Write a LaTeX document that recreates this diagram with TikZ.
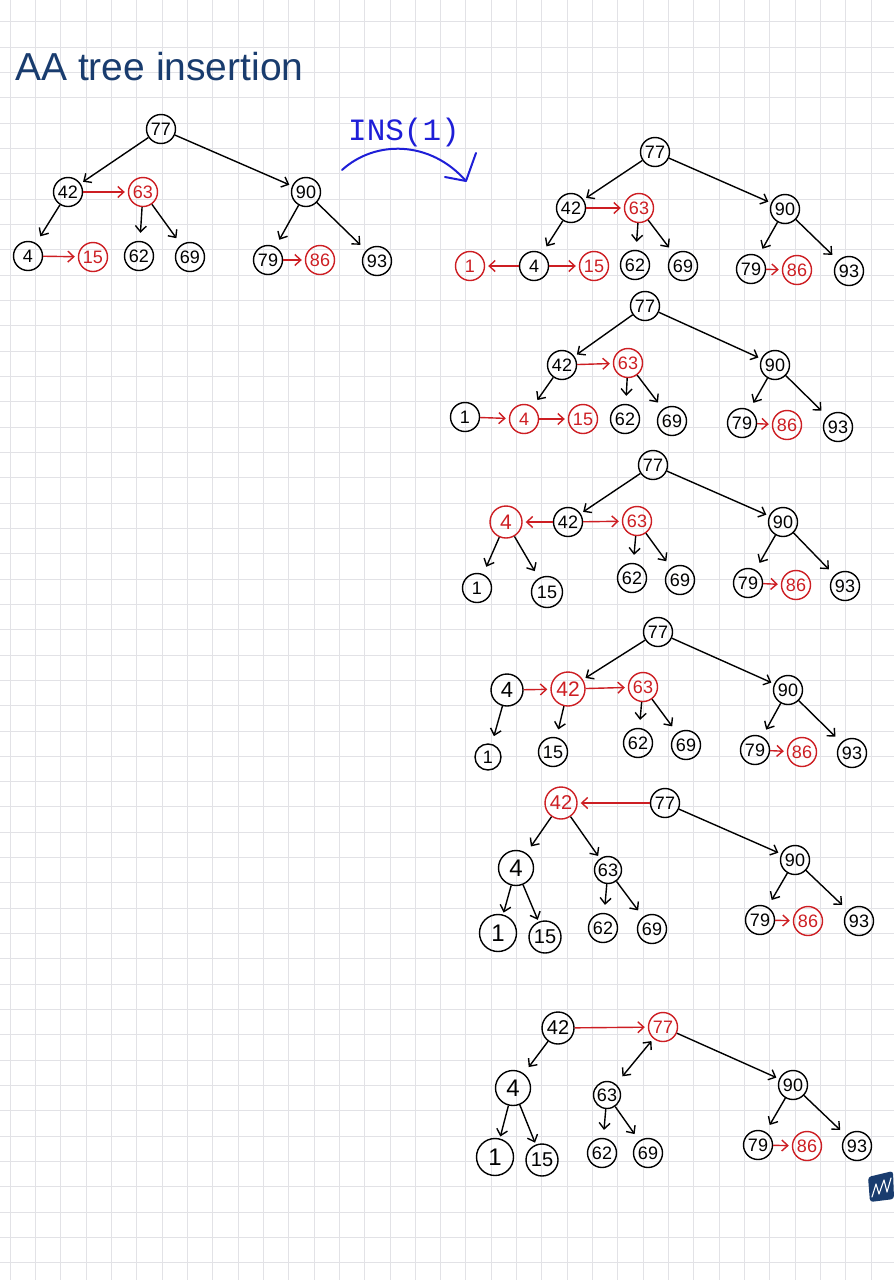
\documentclass[tikz,border=0pt]{standalone}
\usepackage{fontspec}
\setmainfont{Liberation Sans}
\newfontfamily\monof{Liberation Mono}
\usetikzlibrary{arrows.meta}
\definecolor{hred}{RGB}{205,30,35}
\definecolor{navy}{RGB}{25,60,110}
\definecolor{ink}{RGB}{30,30,215}
\definecolor{gridc}{RGB}{226,226,230}
\begin{document}
\begin{tikzpicture}[x=1pt,y=-1pt,
 >={Straight Barb[length=6pt,width=11pt]},
 nd/.style={circle,draw=black,line width=1.4pt,inner sep=0pt,minimum size=29pt,font=\fontsize{18}{18}\selectfont},
 rn/.style={nd,draw=hred,text=hred},
 bg/.style={minimum size=35pt,font=\fontsize{24}{24}\selectfont},
 ed/.style={->,line width=1.4pt,shorten >=3pt},
 re/.style={ed,draw=hred},
 lf/.style={shorten >=8pt},
 gridline/.style={draw=gridc,line width=0.9pt}]
\fill[white] (0,0) rectangle (894,1280);
\useasboundingbox (0,0) rectangle (894,1280);
\foreach \i in {0,...,35} \draw[gridline] ({10+\i*25.33},0) -- ({10+\i*25.33},1280);
\foreach \j in {0,...,50} \draw[gridline] (0,{21.7+\j*25.33}) -- (894,{21.7+\j*25.33});

% title
\node[anchor=base west,text=navy,font=\fontsize{39}{39}\selectfont,inner sep=0pt] (title) at (15,80) {AA tree insertion};

% INS(1)
\node[anchor=base,text=ink,font=\monof\fontsize{31}{31}\selectfont,inner sep=0pt] (ins) at (404,140) {INS(1)};
\coordinate (insA) at (342,170);
\coordinate (insB) at (466,181);
\draw[ink,line width=2pt,line cap=round] (insA) .. controls (375,140) and (430,140) .. (insB);
\draw[ink,line width=2pt,line cap=round,line join=round] (445,177) -- (insB) -- (476,153);

% ---------- tree 0
\node[nd] (a77) at (161,129) {77};
\node[nd] (a42) at (68,192) {42};
\node[rn] (a63) at (143,192) {63};
\node[nd] (a90) at (306,192) {90};
\node[nd] (a4) at (28,256) {4};
\node[rn] (a15) at (93,257) {15};
\node[nd] (a62) at (139,256) {62};
\node[nd] (a69) at (190,257) {69};
\node[nd] (a79) at (268,260) {79};
\node[rn] (a86) at (320,260) {86};
\node[nd] (a93) at (377,261) {93};
\draw[ed] (a77) -- (a42);
\draw[ed] (a77) -- (a90);
\draw[re] (a42) -- (a63);
\draw[ed,lf] (a42) -- (a4);
\draw[ed,lf] (a63) -- (a62);
\draw[ed,lf] (a63) -- (a69);
\draw[re] (a4) -- (a15);
\draw[ed,lf] (a90) -- (a79);
\draw[ed,lf] (a90) -- (a93);
\draw[re] (a79) -- (a86);

% ---------- tree 1
\node[nd] (b77) at (655,152) {77};
\node[nd] (b42) at (571,208) {42};
\node[rn] (b63) at (639,208) {63};
\node[nd] (b90) at (785,209) {90};
\node[rn] (b1) at (470,266) {1};
\node[nd] (b4) at (534,266) {4};
\node[rn] (b15) at (594,266) {15};
\node[nd] (b62) at (635,265) {62};
\node[nd] (b69) at (683,266) {69};
\node[nd] (b79) at (751,269) {79};
\node[rn] (b86) at (797,270) {86};
\node[nd] (b93) at (849,271) {93};
\draw[ed] (b77) -- (b42);
\draw[ed] (b77) -- (b90);
\draw[re] (b42) -- (b63);
\draw[ed,lf] (b42) -- (b4);
\draw[re] (b4) -- (b1);
\draw[re] (b4) -- (b15);
\draw[ed,lf] (b63) -- (b62);
\draw[ed,lf] (b63) -- (b69);
\draw[ed,lf] (b90) -- (b79);
\draw[ed,lf] (b90) -- (b93);
\draw[re] (b79) -- (b86);

% ---------- tree 2
\node[nd] (c77) at (645,306) {77};
\node[nd] (c42) at (562,365) {42};
\node[rn] (c63) at (628,363) {63};
\node[nd] (c90) at (775,365) {90};
\node[nd] (c1) at (465,417) {1};
\node[rn] (c4) at (524,419) {4};
\node[rn] (c15) at (583,419) {15};
\node[nd] (c62) at (625,419) {62};
\node[nd] (c69) at (672,421) {69};
\node[nd] (c79) at (742,423) {79};
\node[rn] (c86) at (787,425) {86};
\node[nd] (c93) at (838,427) {93};
\draw[ed] (c77) -- (c42);
\draw[ed] (c77) -- (c90);
\draw[re] (c42) -- (c63);
\draw[ed,lf] (c42) -- (c4);
\draw[re] (c1) -- (c4);
\draw[re] (c4) -- (c15);
\draw[ed,lf] (c63) -- (c62);
\draw[ed,lf] (c63) -- (c69);
\draw[ed,lf] (c90) -- (c79);
\draw[ed,lf] (c90) -- (c93);
\draw[re] (c79) -- (c86);

% ---------- tree 3
\node[nd] (d77) at (653,465) {77};
\node[nd] (d42) at (568,522) {42};
\node[rn,minimum size=32pt,font=\fontsize{21}{21}\selectfont] (d4) at (506,522) {4};
\node[rn] (d63) at (637,521) {63};
\node[nd] (d90) at (783,522) {90};
\node[nd] (d1) at (477,588) {1};
\node[nd,minimum size=31pt] (d15) at (547,592) {15};
\node[nd] (d62) at (632,578) {62};
\node[nd] (d69) at (680,580) {69};
\node[nd] (d79) at (748,583) {79};
\node[rn] (d86) at (796,585) {86};
\node[nd] (d93) at (845,586) {93};
\draw[ed] (d77) -- (d42);
\draw[ed] (d77) -- (d90);
\draw[re] (d42) -- (d4);
\draw[re] (d42) -- (d63);
\draw[ed,lf] (d4) -- (d1);
\draw[ed,lf] (d4) -- (d15);
\draw[ed,lf] (d63) -- (d62);
\draw[ed,lf] (d63) -- (d69);
\draw[ed,lf] (d90) -- (d79);
\draw[ed,lf] (d90) -- (d93);
\draw[re] (d79) -- (d86);

% ---------- tree 4
\node[nd] (e77) at (658,632) {77};
\node[nd,minimum size=32pt,font=\fontsize{22}{22}\selectfont] (e4) at (507,690) {4};
\node[rn,minimum size=34pt,font=\fontsize{21}{21}\selectfont] (e42) at (568,689) {42};
\node[rn] (e63) at (643,687) {63};
\node[nd] (e90) at (788,690) {90};
\node[nd,minimum size=26pt] (e1) at (488,757) {1};
\node[nd] (e15) at (553,752) {15};
\node[nd] (e62) at (638,743) {62};
\node[nd] (e69) at (686,745) {69};
\node[nd] (e79) at (755,750) {79};
\node[rn] (e86) at (802,752) {86};
\node[nd] (e93) at (852,753) {93};
\draw[ed] (e77) -- (e42);
\draw[ed] (e77) -- (e90);
\draw[re] (e4) -- (e42);
\draw[re] (e42) -- (e63);
\draw[ed,lf] (e4) -- (e1);
\draw[ed,lf] (e42) -- (e15);
\draw[ed,lf] (e63) -- (e62);
\draw[ed,lf] (e63) -- (e69);
\draw[ed,lf] (e90) -- (e79);
\draw[ed,lf] (e90) -- (e93);
\draw[re] (e79) -- (e86);

% ---------- tree 5
\node[rn,minimum size=32pt,font=\fontsize{20}{20}\selectfont] (f42) at (561,803) {42};
\node[nd] (f77) at (665,803) {77};
\node[nd,bg] (f4) at (516,868) {4};
\node[nd,minimum size=27pt] (f63) at (608,870) {63};
\node[nd] (f90) at (795,860) {90};
\node[nd,bg,minimum size=37pt] (f1) at (498,933) {1};
\node[nd,minimum size=32pt,font=\fontsize{20}{20}\selectfont] (f15) at (545,937) {15};
\node[nd] (f62) at (603,928) {62};
\node[nd] (f69) at (652,929) {69};
\node[nd] (f79) at (760,920) {79};
\node[rn] (f86) at (808,921) {86};
\node[nd] (f93) at (859,921) {93};
\draw[re] (f77) -- (f42);
\draw[ed] (f77) -- (f90);
\draw[ed,lf] (f42) -- (f4);
\draw[ed] (f42) -- (f63);
\draw[ed,shorten >=2pt] (f4) -- (f1);
\draw[ed,shorten >=2pt] (f4) -- (f15);
\draw[ed,lf] (f63) -- (f62);
\draw[ed,lf] (f63) -- (f69);
\draw[ed,lf] (f90) -- (f79);
\draw[ed,lf] (f90) -- (f93);
\draw[re] (f79) -- (f86);

% ---------- tree 6
\node[nd,minimum size=32pt,font=\fontsize{20}{20}\selectfont] (g42) at (558,1028) {42};
\node[rn] (g77) at (663,1027) {77};
\node[nd,bg] (g4) at (513,1088) {4};
\node[nd,minimum size=27pt] (g63) at (607,1095) {63};
\node[nd] (g90) at (793,1085) {90};
\node[nd,bg,minimum size=37pt] (g1) at (495,1157) {1};
\node[nd,minimum size=32pt,font=\fontsize{20}{20}\selectfont] (g15) at (542,1160) {15};
\node[nd] (g62) at (602,1153) {62};
\node[nd] (g69) at (648,1153) {69};
\node[nd] (g79) at (758,1145) {79};
\node[rn] (g86) at (807,1146) {86};
\node[nd] (g93) at (857,1146) {93};
\draw[re] (g42) -- (g77);
\draw[ed,lf] (g42) -- (g4);
\draw[<->,line width=1.4pt,shorten >=10pt,shorten <=3pt] (g77) -- (g63);
\draw[ed] (g77) -- (g90);
\draw[ed,shorten >=2pt] (g4) -- (g1);
\draw[ed,shorten >=2pt] (g4) -- (g15);
\draw[ed,lf] (g63) -- (g62);
\draw[ed,lf] (g63) -- (g69);
\draw[ed,lf] (g90) -- (g79);
\draw[ed,lf] (g90) -- (g93);
\draw[re] (g79) -- (g86);

% logo
\fill[navy,rounded corners=3pt] (868,1177) -- (893,1171) -- (894,1199) -- (870,1202) -- cycle;
\draw[white,line width=1.1pt,line cap=round,line join=round] (872,1197) -- (876,1184) -- (879,1194) -- (884,1180) -- (887,1192) -- (891,1178);
\end{tikzpicture}
\end{document}
